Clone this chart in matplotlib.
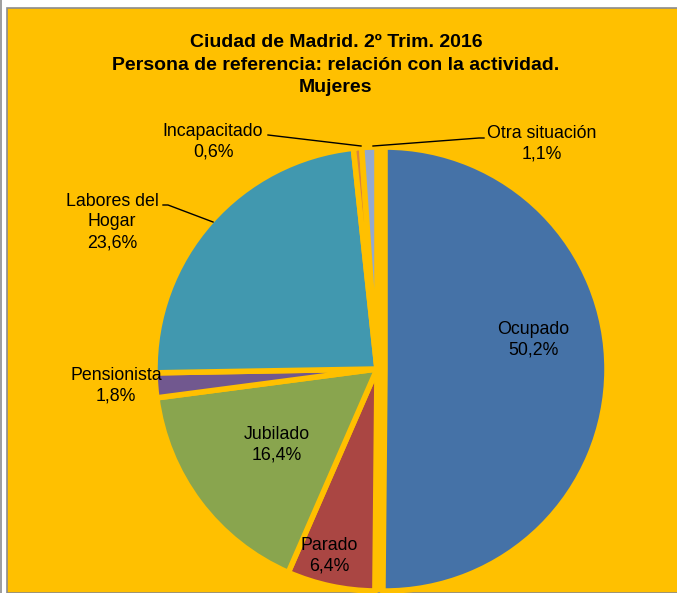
import matplotlib.pyplot as plt
from matplotlib.patches import Rectangle

plt.rcParams['font.family'] = ['Liberation Sans', 'DejaVu Sans']

categories = ['Ocupado', 'Parado', 'Jubilado', 'Pensionista',
              'Labores del\nHogar', 'Incapacitado', 'Otra situación']
values = [50.2, 6.4, 16.4, 1.8, 23.6, 0.6, 1.1]
colors = ['#4572A7', '#AA4643', '#89A54E', '#71588F', '#4198AF', '#DB843D', '#93A9CF']

BG = '#FFC000'
W, H = 677, 593

fig = plt.figure(figsize=(W / 100, H / 100), dpi=100)
ax = fig.add_axes([0, 0, 1, 1])

# chart frame
fig.patches.append(Rectangle((0, 0), 2 / W, 1, transform=fig.transFigure,
                             facecolor='#A0A0A0', edgecolor='none'))
ax.add_patch(Rectangle((7, 0), W, H - 8, facecolor=BG, edgecolor='#8C8C8C', lw=1.2))

# pie in pixel units (y measured from bottom)
cx, cy, r = 377, H - 369, 222
explode = [8, 0, 0, 0, 0, 0, 0]
wedges, _ = ax.pie(values, colors=colors, startangle=90, counterclock=False,
                   explode=explode, center=(cx, cy), radius=r,
                   wedgeprops=dict(edgecolor=BG, linewidth=4))

ax.set_xlim(0, W)
ax.set_ylim(0, H)
ax.set_aspect('equal')
ax.axis('off')

# title
title = 'Ciudad de Madrid. 2º Trim. 2016\nPersona de referencia: relación con la actividad.\nMujeres'
ax.text(336, H - 65, title, ha='center', va='center', fontsize=14, fontweight='bold',
        linespacing=1.45)

# data labels
label_pos = [(533, 340), (329, 556), (277, 445), (116, 386), (112, 222), (213, 142), (542, 144)]
for name, v, (x, y) in zip(categories, values, label_pos):
    txt = f'{name}\n{v:.1f}%'.replace('.', ',')
    ax.text(x, H - y, txt, ha='center', va='center', fontsize=12.8, linespacing=1.3)

# leader lines
leaders = [
    [(163, 205), (168, 205), (213, 222)],
    [(268, 135), (361, 146)],
    [(484, 138), (479, 138), (373, 146)],
]
for pts in leaders:
    xs = [p[0] for p in pts]
    ys = [H - p[1] for p in pts]
    ax.plot(xs, ys, color='black', lw=1)

fig.savefig('out.png', dpi=100, facecolor='white')
